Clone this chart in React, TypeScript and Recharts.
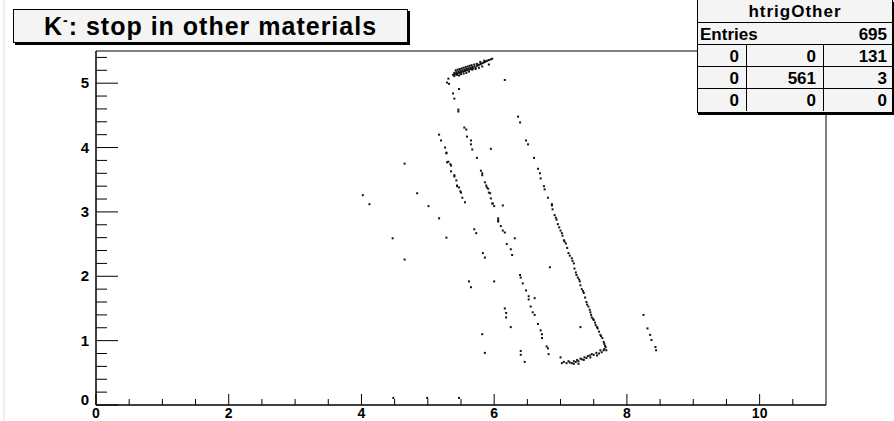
import { ScatterChart, Scatter, XAxis, YAxis, ReferenceArea } from 'recharts'

// hit positions, grouped by the visible tracks
const topBand: [number, number][] = [
  [5.38, 5.13], [5.40, 5.16], [5.41, 5.14], [5.43, 5.17], [5.44, 5.15], [5.46, 5.18], [5.47, 5.16],
  [5.49, 5.19], [5.50, 5.17], [5.52, 5.20], [5.53, 5.18], [5.55, 5.21], [5.56, 5.19], [5.58, 5.22],
  [5.59, 5.20], [5.61, 5.23], [5.62, 5.21], [5.64, 5.24], [5.65, 5.22], [5.67, 5.25], [5.68, 5.23],
  [5.70, 5.26], [5.72, 5.24], [5.74, 5.27], [5.76, 5.28], [5.78, 5.29], [5.80, 5.30], [5.82, 5.31],
  [5.84, 5.32], [5.86, 5.33], [5.88, 5.34], [5.90, 5.35], [5.92, 5.36], [5.95, 5.37], [5.97, 5.38],
  [5.44, 5.13], [5.50, 5.14], [5.58, 5.16], [5.67, 5.21], [5.82, 5.26], [5.92, 5.29], [6.16, 5.05],
  [5.42, 5.20], [5.45, 5.21], [5.48, 5.22], [5.51, 5.23], [5.54, 5.24], [5.57, 5.25], [5.60, 5.26],
  [5.63, 5.27], [5.66, 5.28], [5.70, 5.29], [5.74, 5.30], [5.79, 5.33], [5.85, 5.35], [5.40, 5.11],
  [5.47, 5.12], [5.54, 5.15], [5.62, 5.18], [5.72, 5.22], [5.77, 5.24],
]

const trackLeft: [number, number][] = [
  [5.31, 5.07], [5.29, 5.01], [5.32, 4.99], [5.38, 4.84], [5.40, 4.76], [5.47, 4.91], [5.46, 4.59],
  [5.46, 4.56], [5.17, 4.20], [5.20, 4.11], [5.26, 4.00], [5.28, 3.92], [5.28, 3.91], [5.29, 3.77],
  [5.31, 3.78], [5.34, 3.74], [5.35, 3.72], [5.35, 3.63], [5.40, 3.57], [5.40, 3.55], [5.43, 3.49],
  [5.44, 3.41], [5.44, 3.40], [5.47, 3.38], [5.49, 3.32], [5.50, 3.30], [5.52, 3.22], [5.56, 3.15],
  [5.17, 2.90], [5.70, 2.73], [5.73, 2.67], [5.83, 2.36], [5.86, 2.29], [6.00, 1.92], [6.16, 1.50],
  [6.18, 1.43], [6.18, 1.36], [6.25, 1.21], [6.40, 0.84], [6.40, 0.78], [6.46, 0.67], [5.62, 1.92],
  [5.65, 1.83], [5.82, 1.10], [5.86, 0.81], [5.95, 3.98],
]

const trackMiddle: [number, number][] = [
  [5.55, 4.31], [5.58, 4.28], [5.59, 4.17], [5.65, 4.11], [5.65, 4.05], [5.67, 3.97], [5.74, 3.84],
  [5.80, 3.64], [5.82, 3.60], [5.82, 3.57], [5.86, 3.46], [5.88, 3.41], [5.89, 3.38], [5.91, 3.36],
  [5.92, 3.30], [5.94, 3.29], [5.95, 3.21], [5.97, 3.13], [5.98, 3.13], [6.00, 3.09], [6.06, 2.90],
  [6.06, 2.87], [6.06, 2.85], [6.10, 2.78], [6.13, 2.71], [6.16, 2.68], [6.19, 2.50], [6.25, 2.42],
  [6.27, 2.33], [6.39, 2.02], [6.40, 1.98], [6.43, 1.89], [6.48, 1.78], [6.52, 1.69], [6.52, 1.64],
  [6.55, 1.53], [6.58, 1.44], [6.61, 1.40], [6.66, 1.26], [6.70, 1.16], [6.72, 1.10], [6.72, 1.04],
  [6.79, 0.91], [6.81, 0.88], [6.82, 0.79], [6.61, 1.66], [6.31, 2.59], [6.13, 3.10],
]

const trackRight: [number, number][] = [
  [6.36, 4.48], [6.39, 4.39], [6.48, 4.11], [6.51, 4.05], [6.60, 3.84], [6.66, 3.67], [6.69, 3.60],
  [6.70, 3.52], [6.75, 3.40], [6.76, 3.35], [6.81, 3.22], [6.87, 3.12], [6.88, 3.04], [6.93, 2.91],
  [6.87, 3.10], [6.91, 2.95], [6.94, 2.88], [6.96, 2.81], [6.98, 2.76], [7.00, 2.71], [7.02, 2.67],
  [7.03, 2.63], [7.05, 2.56], [7.06, 2.54], [7.08, 2.51], [7.10, 2.44], [7.12, 2.36], [7.14, 2.32],
  [7.17, 2.28], [7.18, 2.24], [7.20, 2.20], [7.21, 2.12], [7.23, 2.06], [7.24, 2.02], [7.26, 1.98],
  [7.28, 1.95], [7.29, 1.92], [7.30, 1.86], [7.32, 1.80], [7.34, 1.77], [7.35, 1.74], [7.37, 1.67],
  [7.39, 1.60], [7.40, 1.56], [7.42, 1.53], [7.44, 1.48], [7.45, 1.44], [7.46, 1.40], [7.47, 1.36],
  [7.49, 1.34], [7.50, 1.32], [7.52, 1.28], [7.53, 1.24], [7.55, 1.21], [7.56, 1.19], [7.58, 1.14],
  [7.60, 1.09], [7.61, 1.07], [7.63, 1.04], [7.65, 0.98], [7.66, 0.95], [7.67, 0.92], [7.68, 0.90],
  [7.69, 0.85], [6.84, 2.14], [7.30, 1.21],
]

const bottomBand: [number, number][] = [
  [7.62, 0.82], [7.54, 0.81], [7.47, 0.79], [7.41, 0.76], [7.39, 0.73], [7.32, 0.71], [7.27, 0.68],
  [7.23, 0.67], [7.17, 0.65], [7.09, 0.65], [7.02, 0.65], [7.05, 0.67], [7.00, 0.74], [7.65, 0.85],
  [7.58, 0.80], [7.50, 0.78], [7.44, 0.77], [7.36, 0.74], [7.30, 0.72], [7.25, 0.70], [7.20, 0.68],
  [7.14, 0.66], [7.12, 0.68], [7.35, 0.70], [7.45, 0.74], [7.55, 0.77], [7.60, 0.85], [7.66, 0.87],
  [7.27, 0.64], [7.20, 0.64],
]

const trackFar: [number, number][] = [
  [8.25, 1.40], [8.31, 1.19], [8.35, 1.09], [8.37, 1.01], [8.43, 0.90], [8.44, 0.85],
]

const strays: [number, number][] = [
  [4.02, 3.26], [4.12, 3.12], [4.65, 3.75], [4.84, 3.29], [5.01, 3.09], [4.47, 2.59], [4.65, 2.26],
  [5.28, 2.60], [4.48, 0.11], [4.99, 0.11], [5.47, 0.11],
]

const xTicks = [0, 0.5, 1, 1.5, 2, 2.5, 3, 3.5, 4, 4.5, 5, 5.5, 6, 6.5, 7, 7.5, 8, 8.5, 9, 9.5, 10, 10.5]
const yTicks = [0, 0.2, 0.4, 0.6, 0.8, 1, 1.2, 1.4, 1.6, 1.8, 2, 2.2, 2.4, 2.6, 2.8, 3, 3.2, 3.4,
  3.6, 3.8, 4, 4.2, 4.4, 4.6, 4.8, 5, 5.2, 5.4]

const statsTitle = 'htrigOther'
const entries = 695
const statsGrid = [
  [0, 0, 131],
  [0, 561, 3],
  [0, 0, 0],
]

const points = [...topBand, ...trackLeft, ...trackMiddle, ...trackRight, ...bottomBand, ...trackFar, ...strays]
  .map(([x, y]) => ({ x, y }))

const FONT = '"Liberation Sans", Arial, sans-serif'

const isMajor = (v: number) => Math.abs(v - Math.round(v)) < 1e-6

const XTick = ({ x, y, payload }: any) => {
  const v = payload.value
  const major = isMajor(v) && v % 2 === 0
  return (
    <g>
      <line x1={x} y1={y} x2={x} y2={y - (major ? 11 : 6)} stroke="#000" />
      {major && (
        <text x={x} y={y + 13} textAnchor="middle" fontSize={14} fontWeight="bold" fontFamily={FONT} fill="#000">
          {v}
        </text>
      )}
    </g>
  )
}

const YTick = ({ x, y, payload }: any) => {
  const v = payload.value
  const major = isMajor(v)
  return (
    <g>
      <line x1={x} y1={y} x2={x + (major ? 22 : 11)} y2={y} stroke="#000" />
      {major && (
        <text x={x - 7} y={y + (v === 0 ? 0 : 5)} textAnchor="end" fontSize={15} fontWeight="bold" fontFamily={FONT} fill="#000">
          {v}
        </text>
      )}
    </g>
  )
}

const Dot = ({ cx, cy }: any) => <rect x={cx - 1} y={cy - 1} width={2} height={2} fill="#111" />

const cell = { borderRight: '1px solid #000', textAlign: 'right' as const, padding: '0 7px 0 0', boxSizing: 'border-box' as const }

export default function App() {
  return (
    <div style={{ position: 'absolute', left: 0, top: 0, width: 894, height: 421, background: '#fff', overflow: 'hidden', fontFamily: FONT }}>
      <div style={{ position: 'absolute', left: 3, top: 0, width: 2, height: 421, background: '#eee' }} />
      <ScatterChart width={894} height={421} margin={{ top: 51, right: 68, bottom: 0, left: 56 }}>
        <XAxis type="number" dataKey="x" domain={[0, 11]} ticks={xTicks} interval={0} height={16}
          tickSize={0} tickMargin={0} tickLine={false} tick={<XTick />} axisLine={{ stroke: '#000' }} allowDataOverflow />
        <YAxis type="number" dataKey="y" domain={[0, 5.5]} ticks={yTicks} interval={0} width={40}
          tickSize={0} tickMargin={0} tickLine={false} tick={<YTick />} axisLine={{ stroke: '#000' }} allowDataOverflow />
        <ReferenceArea x1={0} x2={11} y1={0} y2={5.5} fill="none" stroke="#000" strokeWidth={1} ifOverflow="visible" />
        <Scatter data={points} shape={<Dot />} isAnimationActive={false} />
      </ScatterChart>

      {/* title box */}
      <div style={{
        position: 'absolute', left: 13, top: 9, width: 393, height: 32, background: '#f4f4f4',
        border: '1px solid #000', boxShadow: '2px 2px 0 #000', display: 'flex', alignItems: 'center',
        justifyContent: 'center', fontSize: 25, fontWeight: 'bold', color: '#000', letterSpacing: 1,
      }}>
        <span>K<sup style={{ fontSize: 14, verticalAlign: 10, lineHeight: 0 }}>-</sup>: stop in other materials</span>
      </div>

      {/* stats box */}
      <div style={{
        position: 'absolute', left: 697, top: 0, width: 196, height: 113, background: '#f4f4f4',
        borderLeft: '1px solid #000', borderBottom: '1px solid #000', borderRight: '1px solid #000',
        boxShadow: '1px 2px 0 #000', fontSize: 17, fontWeight: 'bold', color: '#000', boxSizing: 'border-box',
      }}>
        <div style={{ height: 23, lineHeight: '24px', textAlign: 'center', letterSpacing: 1, borderBottom: '1px solid #000', boxSizing: 'border-box' }}>
          {statsTitle}
        </div>
        <div style={{ height: 22, lineHeight: '23px', display: 'flex', justifyContent: 'space-between', padding: '0 5px 0 2px', borderBottom: '1px solid #000', boxSizing: 'border-box' }}>
          <span>Entries</span><span>{entries}</span>
        </div>
        {statsGrid.map((row, i) => (
          <div key={i} style={{ display: 'flex', height: 22, lineHeight: '23px', borderBottom: i < 2 ? '1px solid #000' : 'none', boxSizing: 'border-box' }}>
            <div style={{ ...cell, width: 49 }}>{row[0]}</div>
            <div style={{ ...cell, width: 77 }}>{row[1]}</div>
            <div style={{ ...cell, width: 68, borderRight: 'none', padding: '0 5px 0 0' }}>{row[2]}</div>
          </div>
        ))}
      </div>
    </div>
  )
}
